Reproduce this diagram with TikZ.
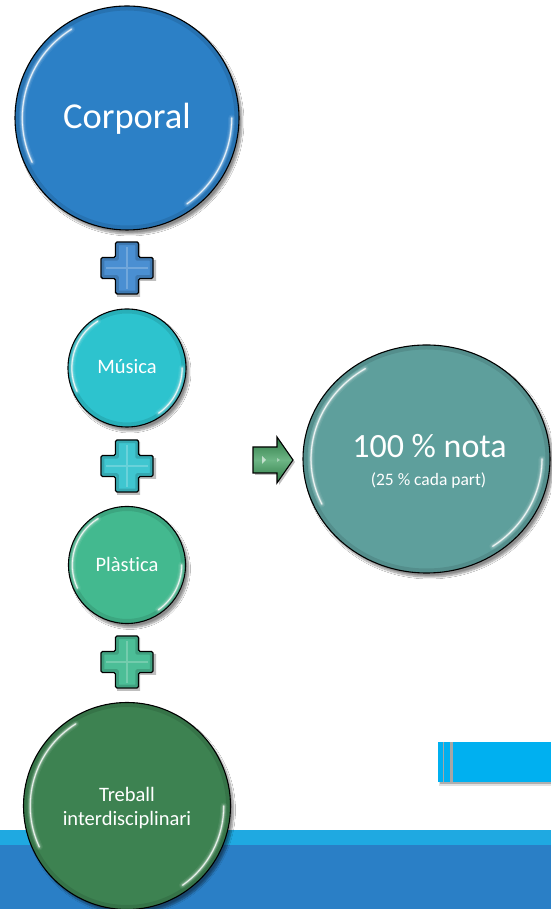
\documentclass[tikz,border=0pt]{standalone}
\usepackage{fontspec}
\setmainfont{Carlito}[Ligatures={NoCommon}]
\usetikzlibrary{shapes.geometric,shadows.blur}

\definecolor{corpC}{HTML}{2C80C6}
\definecolor{musC}{HTML}{2DC3CE}
\definecolor{plasC}{HTML}{43B98F}
\definecolor{trebC}{HTML}{3D8251}
\definecolor{notaC}{HTML}{5E9F9C}
\definecolor{bandDark}{HTML}{2A7FC6}
\definecolor{bandLight}{HTML}{1FA9E1}
\definecolor{barC}{HTML}{00B0F0}
\definecolor{plusA}{HTML}{4A8FD2}
\definecolor{plusB}{HTML}{3FC6D0}
\definecolor{plusC}{HTML}{4CBE97}
\definecolor{arrowDark}{HTML}{2C7A44}
\definecolor{arrowLight}{HTML}{6DB585}

\tikzset{
  bubble/.style={draw=black, line width=1.1pt, inner sep=0pt,
    blur shadow={shadow xshift=3pt, shadow yshift=-4pt, shadow blur steps=8, shadow opacity=45}},
  txt/.style={text=white, inner sep=0pt, anchor=base},
  pics/plussign/.style={code={
    \path[fill=black, opacity=.25] (-10,-29)--(13,-29)--(13,-13)--(29,-13)--(29,8)--(13,8)--(13,24)--(-10,24)--cycle;
    \path[fill=#1, draw=black, line width=1.4pt, rounded corners=1.5pt]
      (-11.5,-26)--(11.5,-26)--(11.5,-10.5)--(26,-10.5)--(26,10.5)--(11.5,10.5)
      --(11.5,26)--(-11.5,26)--(-11.5,10.5)--(-26,10.5)--(-26,-10.5)--(-11.5,-10.5)--cycle;
    \draw[black, opacity=.15, line width=2.5pt, rounded corners=1pt]
      (-9.5,-24)--(9.5,-24)--(9.5,-8.5)--(24,-8.5)--(24,8.5)--(9.5,8.5)
      --(9.5,24)--(-9.5,24)--(-9.5,8.5)--(-24,8.5)--(-24,-8.5)--(-9.5,-8.5)--cycle;
    \draw[white, opacity=.22, line width=2pt] (0,-21)--(0,21) (-21,0)--(21,0);
  }}
}

% soft white rim highlights on a round button
\newcommand\rimshine[3]{%
  \draw[black, opacity=.10, line width=4pt]
    (#1.center) ellipse[x radius=#2-2.5pt, y radius=#3-2.5pt];
  \foreach \w/\o in {7/0.07,4.5/0.12,2.6/0.25,1.4/0.45,0.6/0.85}{
    \draw[white, opacity=\o, line width=\w pt, line cap=round]
      ([shift={(122:{0.935*#2} and {0.935*#3})}]#1.center)
      arc[start angle=122, end angle=205, x radius=0.935*#2, y radius=0.935*#3];
    \draw[white, opacity=\o, line width=\w pt, line cap=round]
      ([shift={(-55:{0.935*#2} and {0.935*#3})}]#1.center)
      arc[start angle=-55, end angle=0, x radius=0.935*#2, y radius=0.935*#3];
  }
}

\begin{document}
\begin{tikzpicture}[x=1pt, y=1pt]
  \useasboundingbox (0,0) rectangle (551,909);
  \fill[white] (0,0) rectangle (551,909);

  % footer band
  \fill[bandDark] (0,0) rectangle (551,64);
  \fill[bandLight] (0,64) rectangle (551,79);

  % striped bar on the right
  \fill[black, opacity=.12] (439,123) rectangle (551,127);
  \fill[black, opacity=.22] (440,124.5) rectangle (551,127);
  \fill[barC] (438,127) rectangle (442.7,167);
  \fill[gray!70] (442.7,127) rectangle (444.3,167);
  \fill[barC] (444.3,127) rectangle (450,167);
  \fill[gray!70] (450,127) rectangle (453.3,167);
  \fill[barC] (453.3,127) rectangle (551,167);

  % buttons
  \node[bubble, circle, fill=corpC, minimum size=224pt] (corp) at (127,791) {};
  \rimshine{corp}{112pt}{112pt}
  \node[txt, font=\fontsize{36.5}{40}\selectfont] (corpT) at (127,780) {Corporal};

  \node[bubble, circle, fill=musC, minimum size=118pt] (mus) at (127,541) {};
  \rimshine{mus}{59pt}{59pt}
  \node[txt, font=\fontsize{20.5}{24}\selectfont] (musT) at (127,535) {Música};

  \node[bubble, circle, fill=plasC, minimum size=117pt] (plas) at (127,344) {};
  \rimshine{plas}{58.5pt}{58.5pt}
  \node[txt, font=\fontsize{20.5}{24}\selectfont] (plasT) at (127,337.3) {Plàstica};

  \node[bubble, circle, fill=trebC, minimum size=207pt] (treb) at (127,103) {};
  \rimshine{treb}{103.5pt}{103.5pt}
  \node[txt, font=\fontsize{20.5}{24}\selectfont] (trebT1) at (127,107) {Treball};
  \node[txt, font=\fontsize{20.5}{24}\selectfont] (trebT2) at (127,83) {interdisciplinari};

  \node[bubble, ellipse, fill=notaC, minimum width=247pt, minimum height=228pt] (nota) at (426.5,450) {};
  \rimshine{nota}{123.5pt}{114pt}
  \node[txt, font=\fontsize{34}{38}\selectfont] (notaT) at (429.5,451) {100 \% nota};
  \node[txt, font=\fontsize{17.5}{20}\selectfont] (notaS) at (428.5,423) {(25 \% cada part)};

  % plus signs between the buttons
  \pic at (127,641) {plussign=plusA};
  \pic at (127,443) {plussign=plusB};
  \pic at (127,247) {plussign=plusC};

  % arrow towards the result
  \path[fill=black, opacity=.25] (255,434)--(279,434)--(279,424)--(295,447)--(279,470)--(279,460)--(255,460)--cycle;
  \path[draw=black, line width=1.1pt, top color=arrowDark, bottom color=arrowDark, middle color=arrowLight]
    (253,436)--(277,436)--(277,426)--(293,449)--(277,472)--(277,462)--(253,462)--cycle;
  \fill[white, opacity=.6] (262,445)--(266,449)--(262,453)--cycle;
  \fill[white, opacity=.4] (280,449)--(277,447)--(277,451)--cycle;
\end{tikzpicture}
\end{document}
